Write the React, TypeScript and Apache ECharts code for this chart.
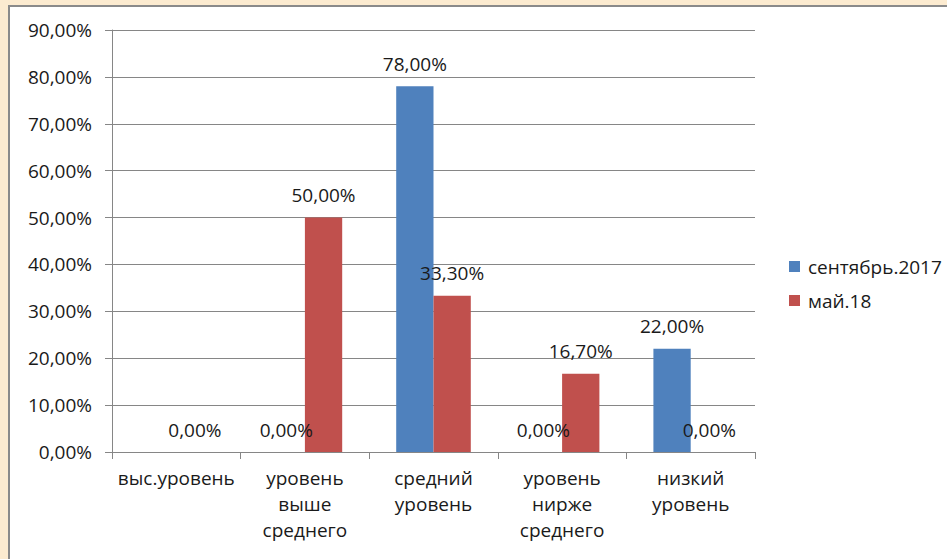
import React, { useEffect, useRef } from "react";
import * as echarts from "echarts";

const categories = ["выс.уровень", "уровень\nвыше\nсреднего", "средний\nуровень", "уровень\nнирже\nсреднего", "низкий\nуровень"];
const seriesNames = ["сентябрь.2017", "май.18"];
const sept2017: (number | string)[] = ["-", 0, 78, 0, 22];
const may18: number[] = [0, 50, 33.3, 16.7, 0];
const yTicks = { min: 0, max: 90, interval: 10 };

const fmt = (v: number) => v.toFixed(2).replace(".", ",") + "%";
const FONT = "Open Sans";
const FS = 19;

export default function App() {
  const ref = useRef<HTMLDivElement>(null);
  useEffect(() => {
    if (!ref.current) return;
    const chart = echarts.init(ref.current, undefined, { renderer: "svg" });
    const labelOpt = {
      show: true,
      position: "top" as const,
      distance: 13,
      color: "#1a1a1a",
      fontFamily: FONT,
      fontSize: FS,
      formatter: (p: any) => fmt(Number(p.value)),
    };
    chart.setOption({
      animation: false,
      backgroundColor: "#ffffff",
      textStyle: { fontFamily: FONT },
      grid: { left: 102, top: 23, right: 192, bottom: 107, containLabel: false },
      legend: {
        orient: "vertical",
        left: 774,
        top: 245,
        itemWidth: 11,
        itemHeight: 11,
        itemGap: 15,
        icon: "rect",
        textStyle: { fontFamily: FONT, fontSize: FS, color: "#1a1a1a", padding: [0, 0, 0, 3] },
        data: seriesNames,
      },
      xAxis: {
        type: "category",
        data: categories,
        axisLine: { lineStyle: { color: "#868686", width: 1 } },
        axisTick: { show: true, length: 7, lineStyle: { color: "#868686" } },
        axisLabel: { fontFamily: FONT, fontSize: FS, color: "#1a1a1a", lineHeight: 26, margin: 13, interval: 0 },
      },
      yAxis: {
        type: "value",
        min: yTicks.min,
        max: yTicks.max,
        interval: yTicks.interval,
        axisLine: { show: true, lineStyle: { color: "#868686" } },
        axisTick: { show: true, length: 7, lineStyle: { color: "#868686" } },
        splitLine: { lineStyle: { color: "#868686" } },
        axisLabel: { fontFamily: FONT, fontSize: FS, color: "#1a1a1a", margin: 20, formatter: (v: number) => fmt(v) },
      },
      series: [
        {
          name: seriesNames[0],
          type: "bar",
          data: sept2017,
          itemStyle: { color: "#4F81BD" },
          barGap: "0%",
          barCategoryGap: "42%",
          label: labelOpt,
        },
        {
          name: seriesNames[1],
          type: "bar",
          data: may18,
          itemStyle: { color: "#C0504D" },
          barGap: "0%",
          barCategoryGap: "42%",
          label: labelOpt,
        },
      ],
    });
    return () => chart.dispose();
  }, []);
  return (
    <div style={{ position: "fixed", left: 0, top: 0, width: 947, height: 559, background: "#FCEBD0", overflow: "hidden" }}>
      <div
        style={{
          position: "absolute",
          left: 8,
          top: 5,
          width: 939,
          height: 554,
          boxSizing: "border-box",
          borderLeft: "2px solid #8a8a8a",
          borderTop: "2px solid #8a8a8a",
          background: "#fff",
        }}
      >
        <div ref={ref} style={{ width: 937, height: 552 }} />
      </div>
    </div>
  );
}
